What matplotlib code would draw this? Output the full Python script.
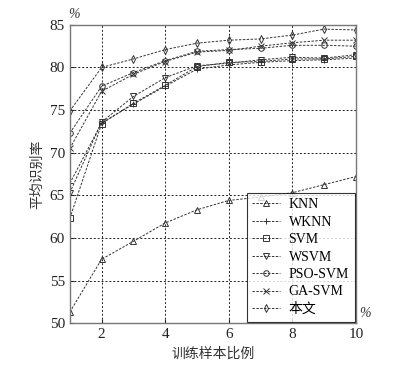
import matplotlib
matplotlib.use("Agg")
import matplotlib.pyplot as plt

plt.rcParams['font.family'] = ['Liberation Serif', 'Noto Sans CJK SC']

x = [1, 2, 3, 4, 5, 6, 7, 8, 9, 10]
knn = [51.3, 57.5, 59.6, 61.75, 63.3, 64.4, 64.8, 65.3, 66.25, 67.2]
wknn = [66.4, 73.5, 75.7, 77.8, 79.8, 80.3, 80.6, 80.8, 80.9, 81.1]
svm = [62.3, 73.4, 75.8, 77.9, 80.1, 80.6, 80.7, 81.0, 81.0, 81.3]
wsvm = [65.3, 73.6, 76.6, 78.8, 80.2, 80.5, 80.9, 81.2, 81.1, 81.5]
pso_svm = [72.3, 77.8, 79.4, 80.8, 81.9, 82.1, 82.25, 82.6, 82.6, 82.5]
ga_svm = [70.5, 77.2, 79.2, 80.7, 81.8, 82.0, 82.5, 82.9, 83.2, 83.2]
ours = [74.9, 80.0, 81.0, 82.1, 82.85, 83.2, 83.35, 83.8, 84.5, 84.4]

labels = ['KNN', 'WKNN', 'SVM', 'WSVM', 'PSO-SVM', 'GA-SVM', '本文']
series = [knn, wknn, svm, wsvm, pso_svm, ga_svm, ours]
markers = ['^', '+', 's', 'v', 'o', 'x', 'd']
xticks = [2, 4, 6, 8, 10]
yticks = [50, 55, 60, 65, 70, 75, 80, 85]

fig = plt.figure(figsize=(3.99, 3.71), dpi=100)
ax = fig.add_axes([0.175, 0.129, 0.717, 0.804])

for s, m, lab in zip(series, markers, labels):
    ax.plot(x, s, linestyle=(0, (2.5, 1.5)), color='#333333', linewidth=0.7,
            marker=m, markersize=4,
            markerfacecolor='none', markeredgecolor='#333333', markeredgewidth=0.7,
            label=lab)

ax.set_xlim(1, 10)
ax.set_ylim(50, 85)
ax.set_xticks(xticks)
ax.set_yticks(yticks)
ax.grid(True, linestyle=(0, (2, 2)), color='#222222', linewidth=0.7)
for sp in ax.spines.values():
    sp.set_color('#777777')
    sp.set_linewidth(1.0)
ax.tick_params(direction='in', length=3, labelsize=11, colors='#222222')

ax.set_xlabel('训练样本比例', fontsize=10, family=['Noto Sans CJK SC'], color='#333333')
ax.set_ylabel('平均识别率', fontsize=10, family=['Noto Sans CJK SC'], color='#333333')
ax.text(-0.005, 1.012, '%', transform=ax.transAxes, fontsize=10, style='italic',
        ha='left', va='bottom', color='#333333')
ax.text(1.01, 0.01, '%', transform=ax.transAxes, fontsize=10, style='italic',
        ha='left', va='bottom', color='#333333')

leg = ax.legend(loc='lower right', frameon=True, fancybox=False,
                borderaxespad=0.1, handlelength=2.0, labelspacing=0.32,
                handletextpad=0.6, borderpad=0.4,
                prop={'family': ['Liberation Serif', 'Noto Sans CJK SC'], 'size': 10})
leg.get_frame().set_edgecolor('black')
leg.get_frame().set_linewidth(0.8)

fig.savefig('out.png', dpi=100)
